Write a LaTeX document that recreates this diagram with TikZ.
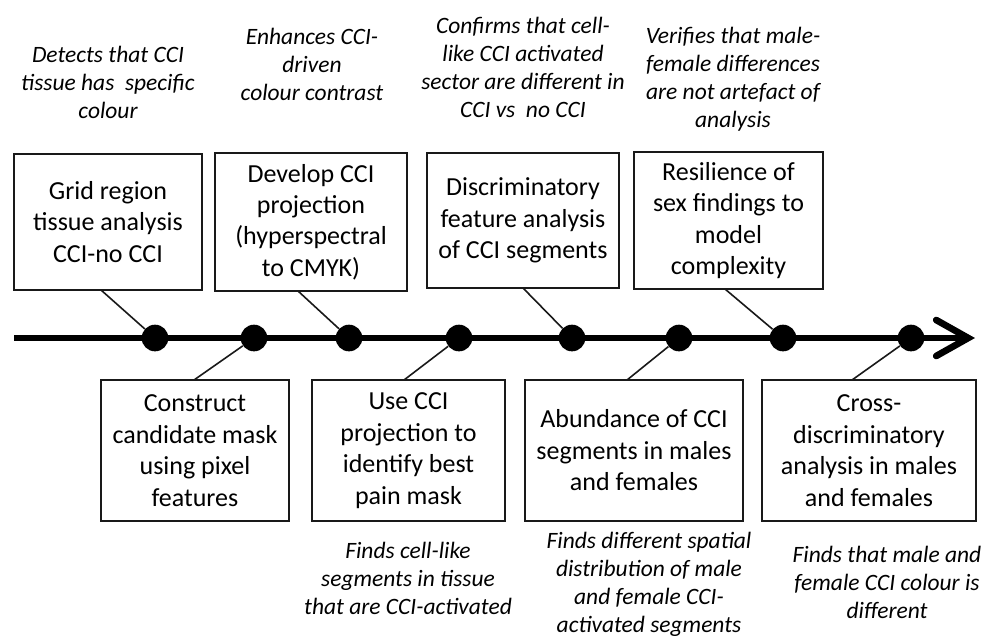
\documentclass[tikz,border=0pt]{standalone}
\usepackage{fontspec}
\setmainfont{Carlito}
\usetikzlibrary{arrows.meta}
\begin{document}
\begin{tikzpicture}[x=0.75pt,y=-0.75pt,
  box/.style={draw=black!90, line width=1.4pt, align=center, inner sep=0pt,
    font=\fontsize{19.5}{23.6}\selectfont},
  note/.style={align=center, inner sep=0pt, font=\fontsize{17.6}{21}\selectfont\itshape},
  dot/.style={circle, fill=black, minimum size=20pt, inner sep=0pt},
  link/.style={line width=1.2pt, black!90},
  axis/.style={line width=5pt, -{Straight Barb[length=24pt,width=27pt,line cap=round,line join=miter]}}]
\useasboundingbox (0,0) rectangle (986,637);

% axis
\coordinate (axs) at (14,338);
\coordinate (axe) at (975,338);
\draw[axis] (axs) -- (axe);

% dots
\node[dot] (d1) at (155,338) {};
\node[dot] (d2) at (254,338) {};
\node[dot] (d3) at (349,338) {};
\node[dot] (d4) at (459,338) {};
\node[dot] (d5) at (572,338) {};
\node[dot] (d6) at (679,338) {};
\node[dot] (d7) at (783,338) {};
\node[dot] (d8) at (911,338) {};

% top boxes
\node[box, minimum width=188*0.75pt, minimum height=136*0.75pt] (t1) at (108,222)
  {Grid region\\tissue analysis\\CCI-no CCI};
\node[box, minimum width=192*0.75pt, minimum height=138*0.75pt] (t2) at (311,222)
  {Develop CCI\\projection\\(hyperspectral\\to CMYK)};
\node[box, minimum width=192*0.75pt, minimum height=135*0.75pt] (t3) at (523,220.5)
  {Discriminatory\\feature analysis\\of CCI segments};
\node[box, minimum width=189*0.75pt, minimum height=137*0.75pt] (t4) at (728.5,220.5)
  {Resilience of\\sex findings to\\model\\complexity};

% bottom boxes
\node[box, minimum width=188*0.75pt, minimum height=141*0.75pt] (b1) at (195,450.5)
  {Construct\\candidate mask\\using pixel\\features};
\node[box, minimum width=193*0.75pt, minimum height=141*0.75pt] (b2) at (408.5,450.5)
  {Use CCI\\projection to\\identify best\\pain mask};
\node[box, minimum width=218*0.75pt, minimum height=141*0.75pt] (b3) at (634,450.5)
  {Abundance of CCI\\segments in males\\and females};
\node[box, minimum width=214*0.75pt, minimum height=141*0.75pt] (b4) at (869,450.5)
  {Cross-\\discriminatory\\analysis in males\\and females};

% connector anchors on boxes
\coordinate (c1) at (101,290);
\coordinate (c3) at (298,291);
\coordinate (c5) at (523,288);
\coordinate (c7) at (725,289);
\coordinate (c2) at (194,380);
\coordinate (c4) at (404,380);
\coordinate (c6) at (627,380);
\coordinate (c8) at (852,380);

\draw[link] (c1) -- (d1);
\draw[link] (c3) -- (d3);
\draw[link] (c5) -- (d5);
\draw[link] (c7) -- (d7);
\draw[link] (c2) -- (d2);
\draw[link] (c4) -- (d4);
\draw[link] (c6) -- (d6);
\draw[link] (c8) -- (d8);

% notes
\node[note] (n1) at (108,82) {Detects that CCI\\tissue has\ \ specific\\colour};
\node[note] (n2) at (312,64) {Enhances CCI-\\driven\\colour contrast};
\node[note] (n3) at (523,67) {Confirms that cell-\\like CCI activated\\sector are different in\\CCI vs\ \ no CCI};
\node[note] (n4) at (733,79) {Verifies that male-\\female differences\\are not artefact of\\analysis};
\node[note] (n5) at (408,578) {Finds cell-like\\segments in tissue\\that are CCI-activated};
\node[note] (n6) at (649,584) {Finds different spatial\\distribution of male\\and female CCI-\\activated segments};
\node[note] (n7) at (887,582) {Finds that male and\\female CCI colour is\\different};
\end{tikzpicture}
\end{document}
